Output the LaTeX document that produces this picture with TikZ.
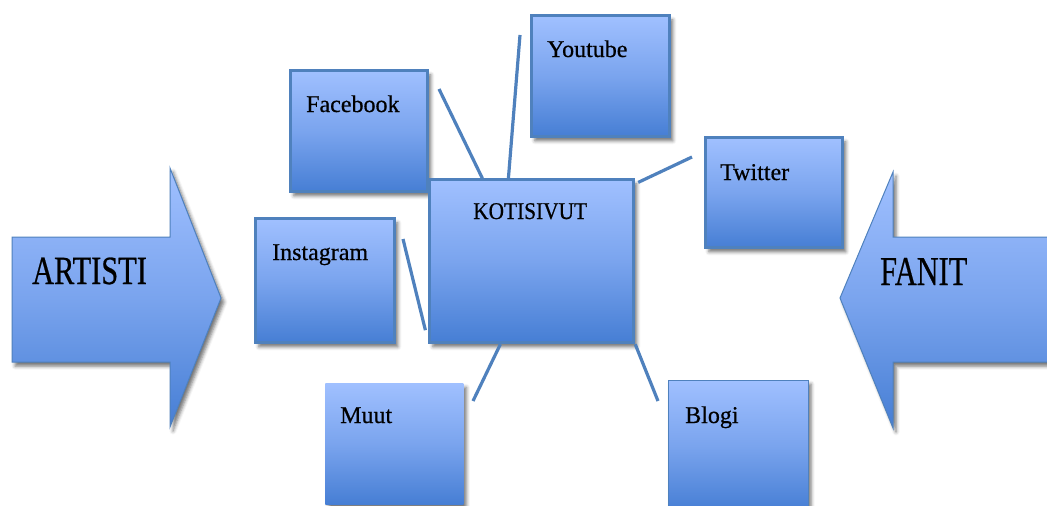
\documentclass[tikz,border=0pt]{standalone}
\usepackage{fontspec}
\usepackage{graphicx}
\setmainfont[FakeBold=0.6]{Liberation Serif}
\usetikzlibrary{calc,shadows.blur}

\definecolor{lightblue}{RGB}{160,192,255}
\definecolor{midblue}{RGB}{122,164,238}
\definecolor{darkblue}{RGB}{70,126,212}
\definecolor{edgeblue}{RGB}{79,129,189}

\tikzset{
  softshadow/.style={blur shadow={shadow xshift=3pt, shadow yshift=-4pt,
      shadow blur radius=3.5pt, shadow opacity=55}},
  bluefill/.style={top color=lightblue, bottom color=darkblue, middle color=midblue},
  box/.style={rectangle, bluefill, draw=edgeblue, line width=2.8pt,
      softshadow, inner sep=0pt, anchor=north west},
  plainbox/.style={box, draw=none},
  thinbox/.style={box, line width=1pt},
  bigarrow/.style={bluefill, draw=edgeblue, line width=1pt, softshadow, line join=miter},
  lbl/.style={font=\fontsize{24}{28}\selectfont, anchor=base west, inner sep=0pt, text=black},
  biglbl/.style={font=\fontsize{40}{46}\selectfont, anchor=base west, inner sep=0pt, text=black},
  link/.style={draw=edgeblue, line width=3.2pt}
}

\begin{document}
\begin{tikzpicture}[x=1pt, y=-1pt]
\useasboundingbox (0,0) rectangle (1047,506);

% side arrows
\path[bigarrow] (12,237) -- (170,237) -- (170,168) -- (221,298) -- (170,427)
      -- (170,362) -- (12,362) -- cycle;
\path[bigarrow] (1060,237) -- (893,237) -- (893,172) -- (840,298) -- (893,428)
      -- (893,362) -- (1060,362) -- cycle;
\node[biglbl] (artisti) at (32,284) {\scalebox{0.76}[1]{ARTISTI}};
\node[biglbl, font=\fontsize{41}{46}\selectfont] (fanit) at (880,285) {\scalebox{0.74}[1]{FANIT}};

% boxes
\node[box, minimum width=137pt, minimum height=121pt] (fb)  at (289.4,69.4)  {};
\node[box, minimum width=138pt, minimum height=121pt] (yt)  at (530.4,14.4)  {};
\node[box, minimum width=137pt, minimum height=110pt] (tw)  at (704.4,136.4) {};
\node[box, minimum width=139pt, minimum height=124pt] (ig)  at (254.4,217.4) {};
\node[plainbox, minimum width=138pt, minimum height=121pt] (mu) at (324,382) {};
\node[thinbox, minimum width=140pt, minimum height=131pt] (bl) at (667.5,379.5) {};
\node[box, minimum width=204pt, minimum height=163pt] (kot) at (428.4,178.4) {};

% labels
\node[lbl] (fbt) at (306,112) {Facebook};
\node[lbl] (ytt) at (547,57)  {Youtube};
\node[lbl] (twt) at (720,180) {Twitter};
\node[lbl] (igt) at (272,260) {Instagram};
\node[lbl] (mut) at (340,423) {Muut};
\node[lbl] (blt) at (685,423) {Blogi};
\node[lbl] (kott) at (473,219) {\scalebox{0.89}[1]{KOTISIVUT}};

% free ends of the connectors
\coordinate (fbend) at (439,89);
\coordinate (ytend) at (520,35);
\coordinate (twend) at (692,157);
\coordinate (igend) at (403,239);
\coordinate (muend) at (473,401);
\coordinate (blend) at (658,401);

% connectors
\draw[link] (fbend) -- ([xshift=54pt]kot.north west);
\draw[link] (ytend) -- ([xshift=80pt]kot.north west);
\draw[link] (twend) -- ([xshift=3pt,yshift=-4pt]kot.north east);
\draw[link] (igend) -- ([xshift=-3pt,yshift=14pt]kot.south west);
\draw[link] (muend) -- ([xshift=72pt]kot.south west);
\draw[link] (blend) -- (kot.south east);
\end{tikzpicture}
\end{document}
